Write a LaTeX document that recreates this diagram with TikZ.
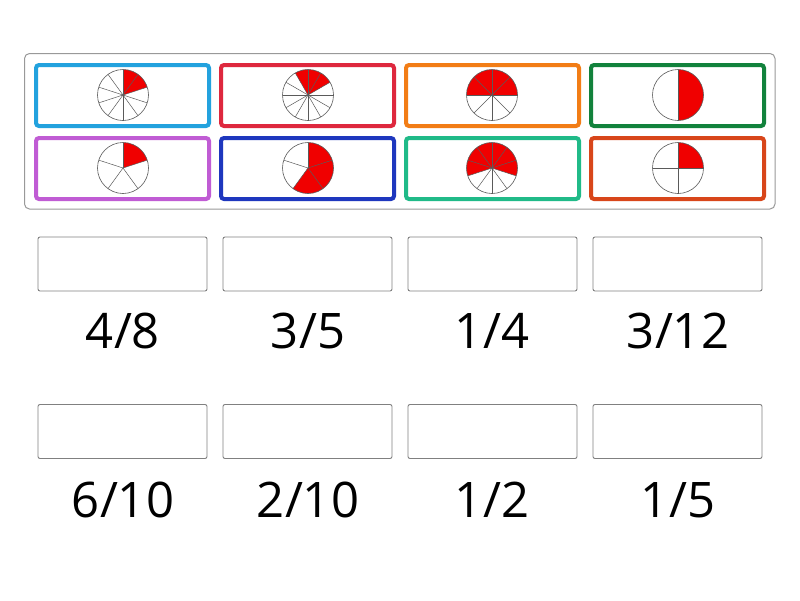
\documentclass[tikz,border=0pt]{standalone}
\usepackage{fontspec}
\setmainfont{Open Sans}
\definecolor{cBlue}{RGB}{35,162,222}
\definecolor{cCrimson}{RGB}{222,40,62}
\definecolor{cOrange}{RGB}{242,125,22}
\definecolor{cGreen}{RGB}{18,130,60}
\definecolor{cPurple}{RGB}{192,92,212}
\definecolor{cNavy}{RGB}{30,55,190}
\definecolor{cTeal}{RGB}{32,186,136}
\definecolor{cRust}{RGB}{216,70,26}
\definecolor{pieRed}{RGB}{240,0,0}
\definecolor{pieLine}{RGB}{90,90,90}
\tikzset{
  outerbox/.style={draw=black!40, line width=1pt, rounded corners=5pt, fill=white},
  cardbox/.style={draw=#1, line width=4pt, rounded corners=3pt, minimum width=173pt, minimum height=61pt, inner sep=0pt},
  ansbox/.style={draw=black!50, line width=0.9pt, rounded corners=2pt, minimum width=169pt, minimum height=54pt, inner sep=0pt},
  fraclabel/.style={anchor=base, inner sep=0pt, font=\fontsize{49}{58}\selectfont},
}
% \mypie{cx}{cy}{n}{k}{start}
\newcommand{\mypie}[5]{%
  \pgfmathsetmacro{\slc}{360/#3}%
  \pgfmathsetmacro{\pend}{#5-#4*\slc}%
  \fill[pieRed] (#1,#2) -- ++(#5:25.5) arc[start angle=#5, end angle=\pend, radius=25.5] -- cycle;
  \foreach \i in {1,...,#3}{
    \draw[pieLine, line width=0.5pt] (#1,#2) -- ++({90+\i*\slc}:25.5);
  }
  \draw[pieLine, line width=0.6pt] (#1,#2) circle[radius=25.5];
}
\begin{document}
\begin{tikzpicture}[x=1pt,y=1pt]
\useasboundingbox (0,0) rectangle (800,-600);
\fill[white] (0,0) rectangle (800,-600);
\draw[outerbox] (24.5,-53.5) rectangle (775,-209);
% cards
\node[cardbox=cBlue] (c1) at (122.5,-95.5) {};
\node[cardbox=cCrimson] (c2) at (307.5,-95.5) {};
\node[cardbox=cOrange] (c3) at (492.5,-95.5) {};
\node[cardbox=cGreen] (c4) at (677.5,-95.5) {};
\node[cardbox=cPurple] (c5) at (122.5,-168.5) {};
\node[cardbox=cNavy] (c6) at (307.5,-168.5) {};
\node[cardbox=cTeal] (c7) at (492.5,-168.5) {};
\node[cardbox=cRust] (c8) at (677.5,-168.5) {};
% pies
\mypie{123}{-95}{10}{2}{90}
\mypie{308}{-95}{12}{3}{120}
\mypie{492}{-95}{8}{4}{180}
\mypie{678}{-95}{2}{1}{90}
\mypie{123}{-168}{5}{1}{90}
\mypie{308}{-168}{5}{3}{90}
\mypie{492}{-168}{10}{6}{198}
\mypie{678}{-168}{4}{1}{90}
% answer boxes
\node[ansbox] (a1) at (122.5,-264) {};
\node[ansbox] (a2) at (307.5,-264) {};
\node[ansbox] (a3) at (492.5,-264) {};
\node[ansbox] (a4) at (677.5,-264) {};
\node[ansbox] (a5) at (122.5,-431.5) {};
\node[ansbox] (a6) at (307.5,-431.5) {};
\node[ansbox] (a7) at (492.5,-431.5) {};
\node[ansbox] (a8) at (677.5,-431.5) {};
% labels
\node[fraclabel] (t1) at (123,-348) {4/8};
\node[fraclabel] (t2) at (308,-348) {3/5};
\node[fraclabel] (t3) at (492,-348) {1/4};
\node[fraclabel] (t4) at (678,-348) {3/12};
\node[fraclabel] (t5) at (123,-517) {6/10};
\node[fraclabel] (t6) at (308,-517) {2/10};
\node[fraclabel] (t7) at (492,-517) {1/2};
\node[fraclabel] (t8) at (678,-517) {1/5};
\end{tikzpicture}
\end{document}
